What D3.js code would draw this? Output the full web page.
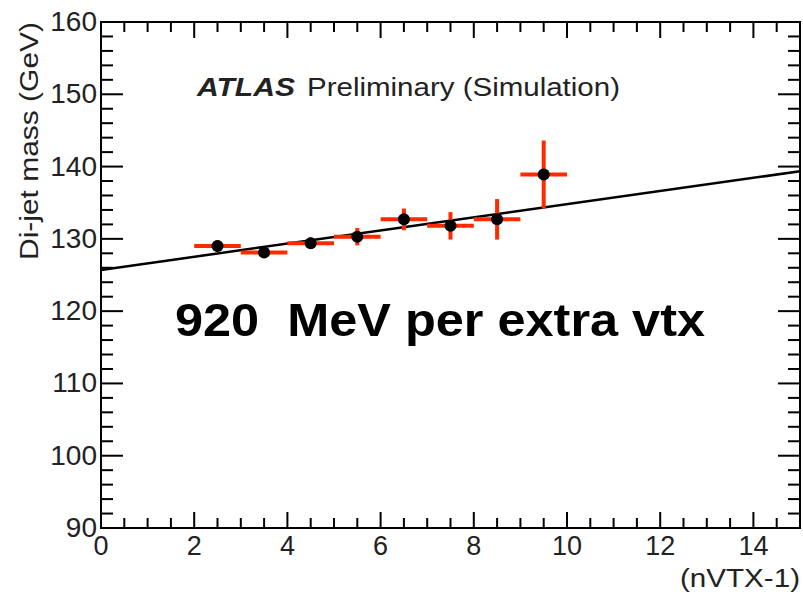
<!DOCTYPE html>
<html><head><meta charset="utf-8">
<script src="https://cdn.jsdelivr.net/npm/d3@7"></script>
<style>body{margin:0;background:#fff}svg{display:block}text{font-family:"Liberation Sans",Arial,sans-serif}</style>
</head><body><svg id="c" width="803" height="595"></svg>
<script>
const xCenters = [2.5, 3.5, 4.5, 5.5, 6.5, 7.5, 8.5, 9.5];
const massValues = [129.0, 128.1, 129.4, 130.3, 132.7, 131.8, 132.7, 138.9];
const massErrors = [0.8, 0.7, 0.8, 1.2, 1.5, 1.9, 2.8, 4.7];
const binHalfWidth = 0.5;
const xTickLabels = [0, 2, 4, 6, 8, 10, 12, 14];
const yTickLabels = [90, 100, 110, 120, 130, 140, 150, 160];
const fitIntercept = 125.7, fitSlope = 0.91;

const svg = d3.select("#c");
const L = 101, R = 800, T = 22, B = 528;
const x = d3.scaleLinear().domain([0, 15]).range([L, R]);
const y = d3.scaleLinear().domain([90, 160]).range([B, T]);

svg.append("rect").attr("x", L).attr("y", T).attr("width", R - L).attr("height", B - T)
  .attr("fill", "none").attr("stroke", "#000").attr("stroke-width", 2);

const g = svg.append("g").attr("stroke", "#000").attr("stroke-width", 2);
d3.range(0, 15.01, 0.5).forEach(v => {
  const major = Math.abs(v % 2) < 1e-6;
  const len = major ? 16 : 10;
  g.append("line").attr("x1", x(v)).attr("x2", x(v)).attr("y1", B).attr("y2", B - len);
  g.append("line").attr("x1", x(v)).attr("x2", x(v)).attr("y1", T).attr("y2", T + len);
});
d3.range(90, 160.01, 2).forEach(v => {
  const major = Math.abs(v % 10) < 1e-6;
  const len = major ? 22 : 12;
  g.append("line").attr("y1", y(v)).attr("y2", y(v)).attr("x1", L).attr("x2", L + len);
  g.append("line").attr("y1", y(v)).attr("y2", y(v)).attr("x1", R).attr("x2", R - len);
});

svg.append("g").selectAll("text").data(xTickLabels).join("text")
  .attr("x", d => x(d)).attr("y", 555).attr("text-anchor", "middle")
  .attr("font-size", 27).attr("fill", "#222").text(d => d);
svg.append("g").selectAll("text").data(yTickLabels).join("text")
  .attr("x", 97).attr("y", d => y(d) + 9).attr("text-anchor", "end")
  .attr("font-size", 28).attr("fill", "#222").text(d => d);

svg.append("text").attr("transform", `translate(38,${T}) rotate(-90)`)
  .attr("text-anchor", "end").attr("font-size", 26).attr("fill", "#222")
  .attr("textLength", 238).attr("lengthAdjust", "spacingAndGlyphs").text("Di-jet mass (GeV)");
svg.append("text").attr("x", 800).attr("y", 587).attr("text-anchor", "end")
  .attr("font-size", 26).attr("fill", "#222")
  .attr("textLength", 120).attr("lengthAdjust", "spacingAndGlyphs").text("(nVTX-1)");

svg.append("line").attr("x1", x(0)).attr("y1", y(fitIntercept))
  .attr("x2", x(15)).attr("y2", y(fitIntercept + fitSlope * 15))
  .attr("stroke", "#000").attr("stroke-width", 2.5);

const pts = xCenters.map((c, i) => ({c, v: massValues[i], e: massErrors[i]}));
const eb = svg.append("g").attr("stroke", "#ff2a00").attr("stroke-width", 4);
eb.selectAll(".h").data(pts).join("line")
  .attr("x1", d => x(d.c - binHalfWidth)).attr("x2", d => x(d.c + binHalfWidth))
  .attr("y1", d => y(d.v)).attr("y2", d => y(d.v));
eb.selectAll(".v").data(pts).join("line")
  .attr("x1", d => x(d.c)).attr("x2", d => x(d.c))
  .attr("y1", d => y(d.v - d.e)).attr("y2", d => y(d.v + d.e));
svg.append("g").selectAll("circle").data(pts).join("circle")
  .attr("cx", d => x(d.c)).attr("cy", d => y(d.v)).attr("r", 6).attr("fill", "#000");

svg.append("text").attr("x", 197).attr("y", 96).attr("font-size", 26).attr("fill", "#222")
  .attr("font-weight", "bold").attr("font-style", "italic")
  .attr("textLength", 98).attr("lengthAdjust", "spacingAndGlyphs").text("ATLAS");
svg.append("text").attr("x", 307).attr("y", 96).attr("font-size", 26).attr("fill", "#222")
  .attr("textLength", 313).attr("lengthAdjust", "spacingAndGlyphs").text("Preliminary (Simulation)");

svg.append("text").attr("x", 175).attr("y", 336).attr("font-size", 47).attr("font-weight", "bold")
  .attr("fill", "#000").attr("xml:space", "preserve").style("white-space", "pre")
  .attr("textLength", 530).attr("lengthAdjust", "spacingAndGlyphs").text("920  MeV per extra vtx");
</script></body></html>
